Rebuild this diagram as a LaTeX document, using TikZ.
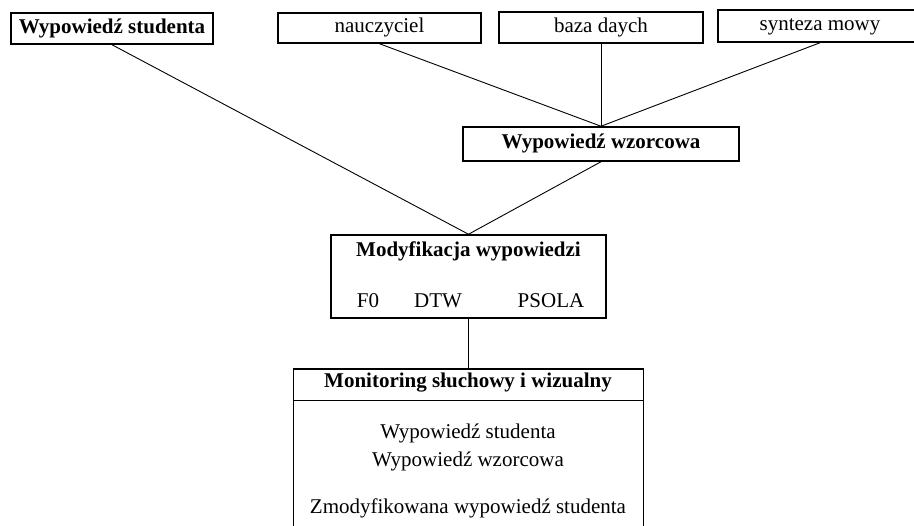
\documentclass[tikz,border=0pt]{standalone}
\usepackage{fontspec}
\setmainfont{Liberation Serif}
\begin{document}
\begin{tikzpicture}[x=1pt,y=-1pt,
  txt/.style={font=\fontsize{21}{25}\selectfont},
  bold/.style={font=\fontsize{21}{25}\selectfont\bfseries},
  box/.style={draw, line width=1.5pt, rectangle, inner sep=0pt,
    text height=14pt, text depth=4.5pt, txt},
  frame/.style={draw, line width=1.5pt, rectangle, inner sep=0pt},
  link/.style={line width=0.9pt},
  lbl/.style={inner sep=0pt, anchor=base, txt},
  ttl/.style={inner sep=0pt, anchor=base, bold}]
\useasboundingbox (0,0) rectangle (914,526);
\clip (0,0) rectangle (914,526);

% sources on the top row
\node[box, bold, minimum width=202pt, minimum height=31pt] (stud) at (112,28.5) {Wypowiedź studenta};
\node[box, minimum width=203pt, minimum height=30pt] (naucz) at (379.5,28) {nauczyciel};
\node[box, minimum width=204pt, minimum height=31pt] (baza) at (601,27.5) {baza daych};
\node[box, minimum width=204pt, minimum height=32pt] (synt) at (820,26) {synteza mowy};

% reference utterance
\node[box, bold, minimum width=276pt, minimum height=34pt] (wzor) at (601,144) {Wypowiedź wzorcowa};

% modification block
\node[frame, minimum width=275pt, minimum height=83pt] (modyf) at (468.5,276.5) {};
\node[ttl] (modt) at (468.5,257) {Modyfikacja wypowiedzi};
\node[lbl] (f0) at (368,308) {F0};
\node[lbl] (dtw) at (438,308) {DTW};
\node[lbl] (psola) at (551,308) {PSOLA};

% monitoring block
\node[frame, minimum width=350pt, minimum height=191pt] (monit) at (468.5,464.5) {};
\draw[line width=1pt] ([yshift=-32pt]monit.north west) -- ([yshift=-32pt]monit.north east);
\node[ttl] (mont) at (468,388) {Monitoring słuchowy i wizualny};
\node[lbl] (m1) at (468,439) {Wypowiedź studenta};
\node[lbl] (m2) at (468,467) {Wypowiedź wzorcowa};
\node[lbl] (m3) at (468,514) {Zmodyfikowana wypowiedź studenta};

% connectors
\draw[link] (naucz.south) -- (wzor.north);
\draw[link] (baza.south) -- (wzor.north);
\draw[link] (synt.south) -- (wzor.north);
\draw[link] (stud.south) -- (modyf.north);
\draw[link] (wzor.south) -- (modyf.north);
\draw[link] (modyf.south) -- (monit.north);
\end{tikzpicture}
\end{document}
